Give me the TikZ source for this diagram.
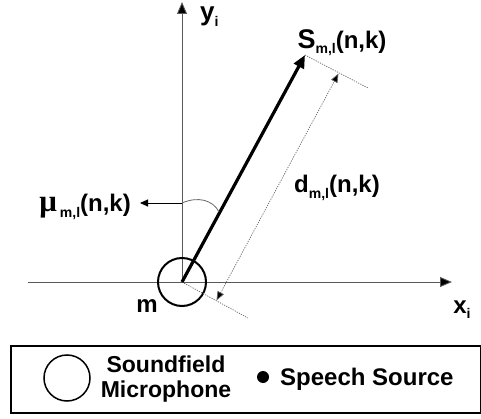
\documentclass[tikz,border=0pt]{standalone}
\usepackage{fontspec}
\setmainfont{Liberation Sans}
\newfontfamily\serifgr{Liberation Serif}
\usetikzlibrary{arrows.meta}
\newcommand{\mysub}[1]{\raisebox{-0.22em}{\fontsize{14}{14}\selectfont #1}}
\begin{document}
\begin{tikzpicture}[x=1pt,y=-1pt,
  axis/.style={line width=0.9pt,draw=black!65,-{Triangle[length=12pt,width=10pt,fill=black]}},
  dotln/.style={line width=0.7pt,draw=black!60,dash pattern=on 1.2pt off 1.2pt},
  lbl/.style={font=\fontsize{24}{26}\selectfont\bfseries,inner sep=0pt},
  every node/.style={inner sep=0pt}]
\useasboundingbox (0,0) rectangle (481,419);
% key points
\coordinate (O) at (182,282);
\coordinate (S) at (305,55);
\coordinate (ytop) at (182,2);
\coordinate (xl) at (28,282);
\coordinate (xr) at (452,282);
\coordinate (pt1) at (368,88);
\coordinate (pb1) at (248,318);
\coordinate (db) at (216.5,300.5);
\coordinate (dt) at (338.5,73.5);
\coordinate (arcA) at (182,203);
\coordinate (arcB) at (219,212);
\coordinate (muend) at (140,203);
% axes
\draw[axis] (xl) -- (xr);
\draw[axis] (O) -- (ytop);
% microphone
\node[circle,draw,line width=2pt,minimum size=48pt] (mic) at (O) {};
% dotted perpendiculars
\draw[dotln] (S) -- (pt1);
\draw[dotln] (O) -- (pb1);
% distance arrow
\draw[dotln,{Triangle[length=9pt,width=7pt,fill=black]}-{Triangle[length=9pt,width=7pt,fill=black]}] (db) -- (dt);
% main arrow
\draw[line width=3.2pt,-{Triangle[length=13pt,width=11pt]}] (O) -- (S);
% angle arc and mu arrow
\draw[line width=0.8pt,black!60] (arcA) .. controls (198,196) and (213,200) .. (arcB);
\draw[line width=0.9pt,-{Triangle[length=8pt,width=7pt]}] (arcA) -- (muend);
% labels
\node[lbl,anchor=base east] (mu) at (131,212) {{\serifgr\fontsize{31}{31}\selectfont μ}\hspace{3pt}\mysub{m,l}(n,k)};
\node[lbl] (Slbl) at (342,43) {{\fontsize{27}{27}\selectfont S}\mysub{m,l}(n,k)};
\node[lbl] (dlbl) at (337,188) {d\mysub{m,l}(n,k)};
\node[lbl,anchor=base west] (ylbl) at (200,21) {{\fontsize{26}{26}\selectfont y}\mysub{i}};
\node[lbl] (xlbl) at (462,310) {x\mysub{i}};
\node[lbl] (mlbl) at (147,306) {m};
% legend
\node[draw,line width=2pt,minimum width=470pt,minimum height=67pt,anchor=north west] (legend) at (10,345) {};
\node[circle,draw,line width=1.5pt,minimum size=46pt] (legmic) at (67,378) {};
\node[lbl,align=center,font=\fontsize{23}{25}\selectfont\bfseries] (legmictxt) at (166,379) {Soundfield\\Microphone};
\node[circle,fill=black,minimum size=12pt] (legdot) at (263,377) {};
\node[lbl,anchor=west,font=\fontsize{24}{26}\selectfont\bfseries] (legsrc) at (280,379) {Speech Source};
\end{tikzpicture}
\end{document}
